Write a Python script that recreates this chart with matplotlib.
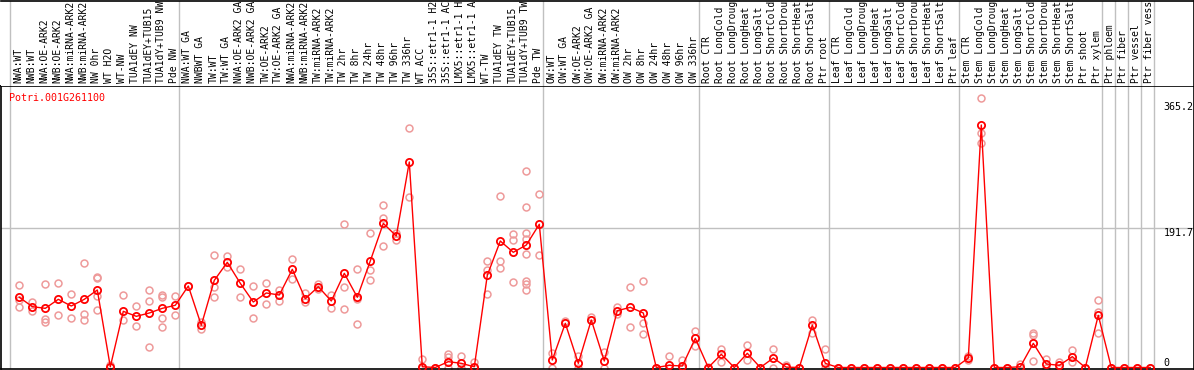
import numpy as np
import matplotlib
matplotlib.use('Agg')
import matplotlib.pyplot as plt

gene = 'Potri.001G261100'

samples = ['NWA:WT', 'NWB:WT', 'NWA:OE-ARK2', 'NWB:OE-ARK2', 'NWA:miRNA-ARK2', 'NWB:miRNA-ARK2',
           'NW 0hr', 'WT H2O', 'WT-NW', 'TUA1dEY NW', 'TUA1dEY+TUB15', 'TUA1dY+TUB9 NW', 'Pde NW',
           'NWA:WT GA', 'NWBWT GA', 'TW:WT', 'TW:WT GA', 'NWA:OE-ARK2 GA', 'NWB:OE-ARK2 GA',
           'TW:OE-ARK2', 'TW:OE-ARK2 GA', 'NWA:miRNA-ARK2', 'NWB:miRNA-ARK2', 'TW:miRNA-ARK2',
           'TW:miRNA-ARK2', 'TW 2hr', 'TW 8hr', 'TW 24hr', 'TW 48hr', 'TW 96hr', 'TW 336hr', 'WT ACC',
           '35S::etr1-1 H2', '35S::etr1-1 AC', 'LMX5::etr1-1 H', 'LMX5::etr1-1 A', 'WT-TW',
           'TUA1dEY TW', 'TUA1dEY+TUB15', 'TUA1dY+TUB9 TW', 'Pde TW',
           'OW:WT', 'OW:WT GA', 'OW:OE-ARK2', 'OW:OE-ARK2 GA', 'OW:miRNA-ARK2', 'OW:miRNA-ARK2',
           'OW 2hr', 'OW 8hr', 'OW 24hr', 'OW 48hr', 'OW 96hr', 'OW 336hr',
           'Root CTR', 'Root LongCold', 'Root LongDroug', 'Root LongHeat', 'Root LongSalt',
           'Root ShortCold', 'Root ShortDrou', 'Root ShortHeat', 'Root ShortSalt', 'Ptr root',
           'Leaf CTR', 'Leaf LongCold', 'Leaf LongDroug', 'Leaf LongHeat', 'Leaf LongSalt',
           'Leaf ShortCold', 'Leaf ShortDrou', 'Leaf ShortHeat', 'Leaf ShortSalt', 'Ptr leaf',
           'Stem CTR', 'Stem LongCold', 'Stem LongDroug', 'Stem LongHeat', 'Stem LongSalt',
           'Stem ShortCold', 'Stem ShortDrou', 'Stem ShortHeat', 'Stem ShortSalt', 'Ptr shoot',
           'Ptr xylem', 'Ptr phloem', 'Ptr fiber', 'Ptr vessel', 'Ptr fiber vess']

means = [96.5, 83.6, 81.3, 93.7, 84.5, 93.7, 106.5, 1, 77.2, 70.3, 74.9, 81.3, 85.5,
         112, 58, 119.8, 144.5, 115.7, 90, 102.4, 99.6, 134.9, 94.5, 111, 91.4, 129.4, 96.5,
         146.4, 198, 180.7, 282.4, 1, 0, 8, 5.7, 1, 126.7, 173.8, 158.3, 168.3, 196.8,
         10.3, 60.7, 5.7, 65.3, 8.9, 78, 82.7, 74.9, 0, 3, 2, 40.1,
         0, 18.1, 0, 19.5, 0, 13, 0.5, 0, 58.4, 5.7,
         0, 0, 0, 0, 0, 0, 0, 0, 0, 0,
         13, 333.2, 0, 0, 1, 33.2, 4.8, 3, 14.9, 0,
         71.7, 0, 0, 0, 0]

reps = [[113, 83.6, 93], [90.5, 78], [114.7, 67, 62], [116, 71.7], [101, 67.6],
        [143.6, 73.5, 65.3], [124, 122.6, 98.3, 79], [1, 4], [99.2, 65.3], [84, 56.6],
        [106, 91.4, 28.2], [99.2, 97.3, 67.6, 55.2], [97.8, 71.7], [112], [62, 53.3],
        [154.2, 111, 96.5], [153.2, 137.7], [135, 96.5], [111.6, 67.6], [115.7, 86.8],
        [106.5, 91.8], [149, 121.2], [102, 89.6], [114.7, 107.5], [99.2, 81.8],
        [196.8, 110.2, 80], [135, 93.7, 59.4], [184.4, 133.6, 119.8], [222.9, 205.4, 166.6],
        [175.2, 185], [328.7, 233.9], [11.3, 0], [0], [18.6, 14.9, 0], [15.8, 0], [8, 0],
        [146, 134, 100.6], [235.3, 146.8, 136.3], [183.5, 175.2, 117],
        [269.6, 220.1, 184.4, 176.2, 155.6, 119.3, 114.7, 106.5], [238, 154.2],
        [19.5, 0], [64.3], [16.2, 0], [69], [21.7, 0], [82.7, 73.5], [110.6, 55.2],
        [118.5, 60.7, 45.6], [0], [15.8, 0], [10.3, 0], [50.2, 29.5],
        [1], [25.4, 8], [0], [30.5, 10.3], [0], [25.4, 0], [3.4], [0], [65.3, 47.8], [25, 0],
        [0], [0], [0], [0], [0], [0], [0], [0], [0], [0],
        [15.8, 10], [370, 321.8, 308], [0], [0], [4.8], [47.8, 44.7, 9.3], [11.3, 0], [8, 0],
        [24, 8], [0], [92.8, 76.7, 47.8], [0], [0], [0], [0]]

group_starts = [0, 13, 41, 53, 63, 73, 84, 85, 86, 87, 88]
yticks = [365.2, 191.7, 0]

W, H = 1194, 370
mono = 'DejaVu Sans Mono'
grid_c = '#c0c0c0'

fig = plt.figure(figsize=(W / 100, H / 100), dpi=100)
ax = fig.add_axes([1 / W, 1 / H, 1192.5 / W, 283 / H])
axl = fig.add_axes([1 / W, 284 / H, 1192.5 / W, 85.5 / H])

xlim = ((1 - 19.3) / 13, (1193.5 - 19.3) / 13)
x = np.arange(len(samples))

# group separators
for k in group_starts:
    ax.axvline(k - 0.715, color=grid_c, lw=1, zorder=0)
    axl.axvline(k - 0.715, color=grid_c, lw=1, zorder=0)
ax.axhline(yticks[1], color=grid_c, lw=1, zorder=0)

# replicates
rx = [i for i, r in enumerate(reps) for _ in r]
ry = [v for r in reps for v in r]
ax.plot(rx, ry, 'o', ls='none', mfc='none', mec='#ee9a9a', ms=5, mew=1.1, zorder=2)

# mean line
ax.plot(x, means, '-', color='red', lw=1, zorder=3)
ax.plot(x, means, 'o', ls='none', mfc='none', mec='red', ms=5.2, mew=1.3, zorder=4)

ax.set_xlim(*xlim)
ax.set_ylim(-2.06, 386.8)
ax.set_xticks([])
ax.set_yticks([])
for s in ax.spines.values():
    s.set_color('black')
    s.set_linewidth(1.2)

ax.text(0.007, 0.975, gene, transform=ax.transAxes, color='red', family=mono,
        fontsize=7.2, ha='left', va='top')

tr = ax.get_yaxis_transform()
ax.text(0.9748, yticks[0], '365.2', transform=tr, family=mono, fontsize=7.2, ha='left', va='top')
ax.text(0.9748, yticks[1], '191.7', transform=tr, family=mono, fontsize=7.2, ha='left', va='top')
ax.text(0.9748, yticks[2], '0', transform=tr, family=mono, fontsize=7.2, ha='left', va='bottom')

# sample labels
axl.set_xlim(*xlim)
axl.set_ylim(0, 1)
axl.set_xticks([])
axl.set_yticks([])
axl.spines['left'].set_visible(False)
axl.spines['bottom'].set_visible(False)
axl.spines['top'].set_linewidth(1.2)
axl.spines['right'].set_linewidth(1.2)
for i, lab in enumerate(samples):
    axl.text(i - 0.07, 0.035, lab, rotation=90, family=mono, fontsize=7,
             ha='center', va='bottom')

fig.savefig('out.png', dpi=100)
